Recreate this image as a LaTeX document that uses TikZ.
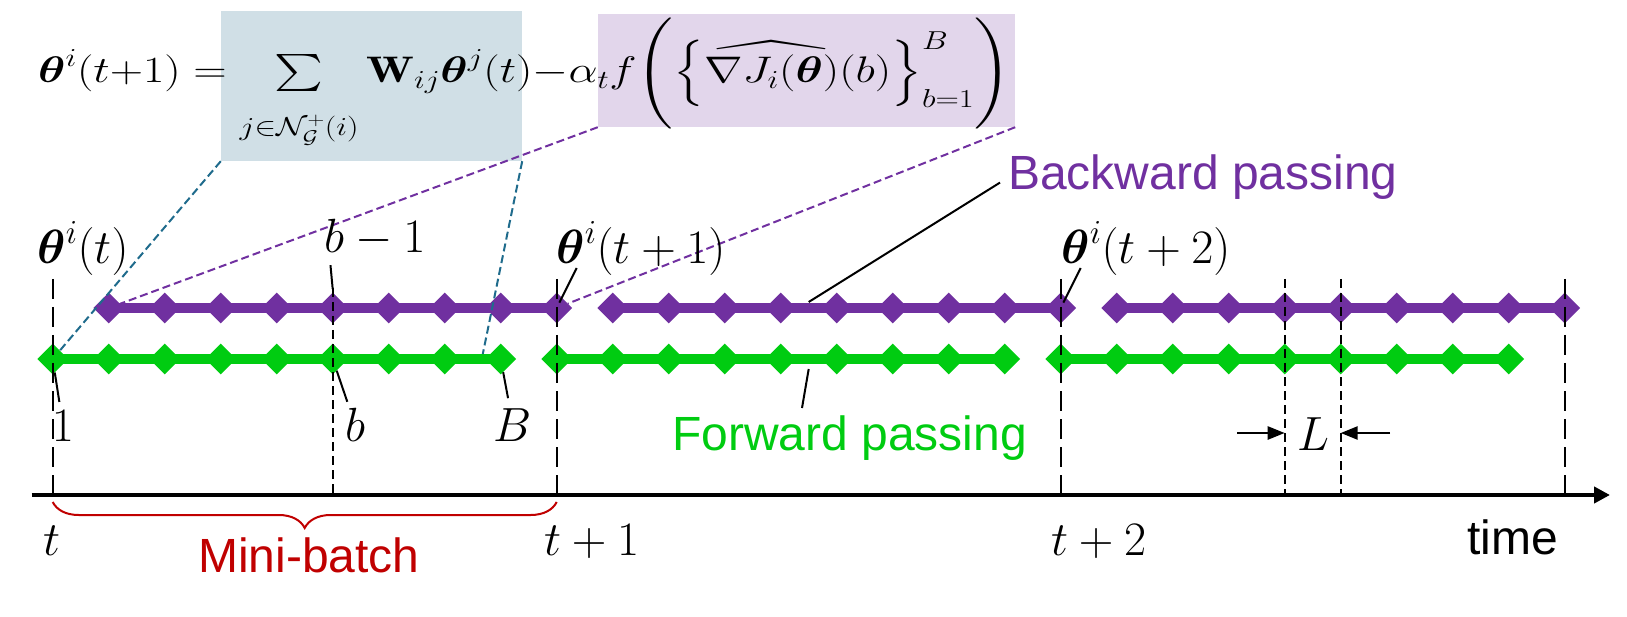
\RequirePackage{fix-cm}
\documentclass[tikz,border=0pt]{standalone}
\usepackage{amsmath,amssymb}
\usepackage{fontspec}
\setsansfont{Liberation Sans}
\definecolor{Grass}{HTML}{00CC11}
\definecolor{Violet}{HTML}{7030A0}
\definecolor{VioletLight}{HTML}{E2D6EB}
\definecolor{Steel}{HTML}{1F6B8C}
\definecolor{SteelLight}{HTML}{D0DFE6}
\definecolor{Crimson}{HTML}{C00000}
\usetikzlibrary{arrows.meta,shapes.geometric,calc,decorations.pathreplacing}
\newcommand{\xstart}{52.7}
\newcommand{\xstep}{56}

\begin{document}
\begin{tikzpicture}[x=1pt,y=-1pt,every node/.style={inner sep=0pt},
  mathlab/.style={font=\fontsize{48}{56}\selectfont},
  textlab/.style={font=\fontsize{48}{56}\selectfont\sffamily},
  gdia/.style={diamond,aspect=1,fill=Grass,minimum size=31pt},
  pdia/.style={diamond,aspect=1,fill=Violet,minimum size=31pt},
  gline/.style={Grass,line width=10pt},
  pline/.style={Violet,line width=10pt},
  tick/.style={line width=2.2pt,dash pattern=on 20pt off 8pt},
  finetick/.style={line width=2pt,dash pattern=on 9pt off 5pt},
  pointer/.style={line width=2pt},
  link/.style={line width=2pt,dash pattern=on 8pt off 4pt},
  larrow/.style={line width=2.5pt,-{Triangle[length=17pt,width=13pt]}},
  axis/.style={line width=4.5pt,-{Triangle[length=16pt,width=16pt]}},
  brace/.style={Crimson,line width=2pt,decorate,decoration={brace,mirror,amplitude=26pt}}]
\useasboundingbox (0,0) rectangle (1627,617);
% highlighted parts of the update rule
\node[fill=SteelLight,minimum width=301pt,minimum height=150pt] (bbox) at (371.5,86) {};
\node[fill=VioletLight,minimum width=417pt,minimum height=113pt] (pbox) at (806.5,70.5) {};
\node[anchor=base west,font=\fontsize{37}{44}\selectfont] (eq) at (38,82.5) {\scalebox{1.25}[1]{$\boldsymbol{\theta}^i(t{+}1)=\sum\limits_{\rule{0pt}{38pt}j\in\mathcal{N}_{\mathcal{G}}^{+}(i)}\mathbf{W}_{ij}\boldsymbol{\theta}^j(t){-}\alpha_t f\Biggl(\Bigl\{\widehat{\nabla J_i(\boldsymbol{\theta})}(b)\Bigr\}_{b=1}^{B}\Biggr)$}};
% forward / backward rows
\foreach \n in {0,...,26} \node[gdia] (g-\n) at ({\xstart+\n*\xstep},359) {};
\foreach \n in {1,...,27} \node[pdia] (p-\n) at ({\xstart+\n*\xstep},308) {};
\foreach \k in {0,9,18}{\pgfmathtruncatemacro\e{\k+8}\draw[gline] (g-\k.center) -- (g-\e.center);}
\foreach \k in {1,10,19}{\pgfmathtruncatemacro\e{\k+8}\draw[pline] (p-\k.center) -- (p-\e.center);}
% time axis and ticks
\coordinate (ttop) at (0,279);
\coordinate (axl) at (31.7,495);
\coordinate (axr) at (1610,495);
\foreach \n in {0,9,18}\draw[tick] (g-\n |- ttop) -- (g-\n |- axl);
\draw[tick] (p-27 |- ttop) -- (p-27 |- axl);
\draw[finetick] (g-5 |- 0,288) -- (g-5 |- axl);
\foreach \n in {22,23}\draw[finetick] (g-\n |- ttop) -- (g-\n |- axl);
\draw[axis] (axl) -- (axr);
% zoom links
\draw[link,Steel] (bbox.south west) -- (g-0);
\draw[link,Steel] (bbox.south east) -- ([yshift=5pt]$(g-7)!0.68!(g-8)$);
\draw[link,Violet] (pbox.south west) -- (p-1);
\draw[link,Violet] (pbox.south east) -- (p-9);
% labels
\node[mathlab,anchor=base] (lab-t0) at (83,264) {$\boldsymbol{\theta}^i(t)$};
\node[mathlab,anchor=base] (lab-bm1) at (375,253) {$b-1$};
\node[mathlab,anchor=base] (lab-t1) at (641,264) {$\boldsymbol{\theta}^i(t+1)$};
\node[mathlab,anchor=base] (lab-t2) at (1146,264) {$\boldsymbol{\theta}^i(t+2)$};
\node[mathlab,anchor=base] (lab-1) at (63,441) {$1$};
\node[mathlab,anchor=base] (lab-b) at (355,441) {$b$};
\node[mathlab,anchor=base] (lab-B) at (513,441) {$B$};
\node[mathlab,anchor=base] (lab-L) at (1313,450) {$L$};
\node[mathlab,anchor=base] (lab-tt) at (52,555) {$t$};
\node[mathlab,anchor=base west] (lab-tt1) at (544,555) {$t+1$};
\node[mathlab,anchor=base west] (lab-tt2) at (1051,555) {$t+2$};
\node[textlab,anchor=base west,text=Violet] (lab-bw) at (1008,190) {Backward passing};
\node[textlab,anchor=base west,text=Grass] (lab-fw) at (672,450) {Forward passing};
\node[textlab,anchor=base west,text=Crimson] (lab-mb) at (198,572) {Mini-batch};
\node[textlab,anchor=base west] (lab-time) at (1467,554) {time};
% pointers
\draw[pointer,shorten >=8pt] (g-0) -- (lab-1);
\draw[pointer,shorten >=6pt] (g-5) -- (lab-b);
\draw[pointer,shorten >=10pt] (g-8) -- (lab-B);
\draw[pointer] ([xshift=6pt,yshift=-8pt]lab-bm1.south west) -- (g-5 |- 0,289);
\draw[pointer,shorten >=6pt] ([xshift=20pt,yshift=40pt]p-9.center) -- (p-9.center);
\draw[pointer,shorten >=6pt] ([xshift=20pt,yshift=40pt]p-18.center) -- (p-18.center);
\draw[pointer] ([xshift=-8pt,yshift=-5pt]lab-bw.west) -- ([yshift=6pt]$(p-13)!0.5!(p-14)$);
\draw[pointer] ([yshift=-10pt]$(g-13)!0.5!(g-14)$) -- ([xshift=130pt,yshift=7pt]lab-fw.north west);
% mini-batch brace and L
\coordinate (brl) at (g-0 |- 0,502);
\coordinate (brr) at (g-9 |- 0,502);
\draw[brace] (brl) -- (brr);
\coordinate (Lleft) at (1237,433);
\coordinate (Lright) at (1390,433);
\draw[larrow] (Lleft) -- (Lleft -| g-22);
\draw[larrow] (Lright) -- (Lright -| g-23);
\end{tikzpicture}
\end{document}
